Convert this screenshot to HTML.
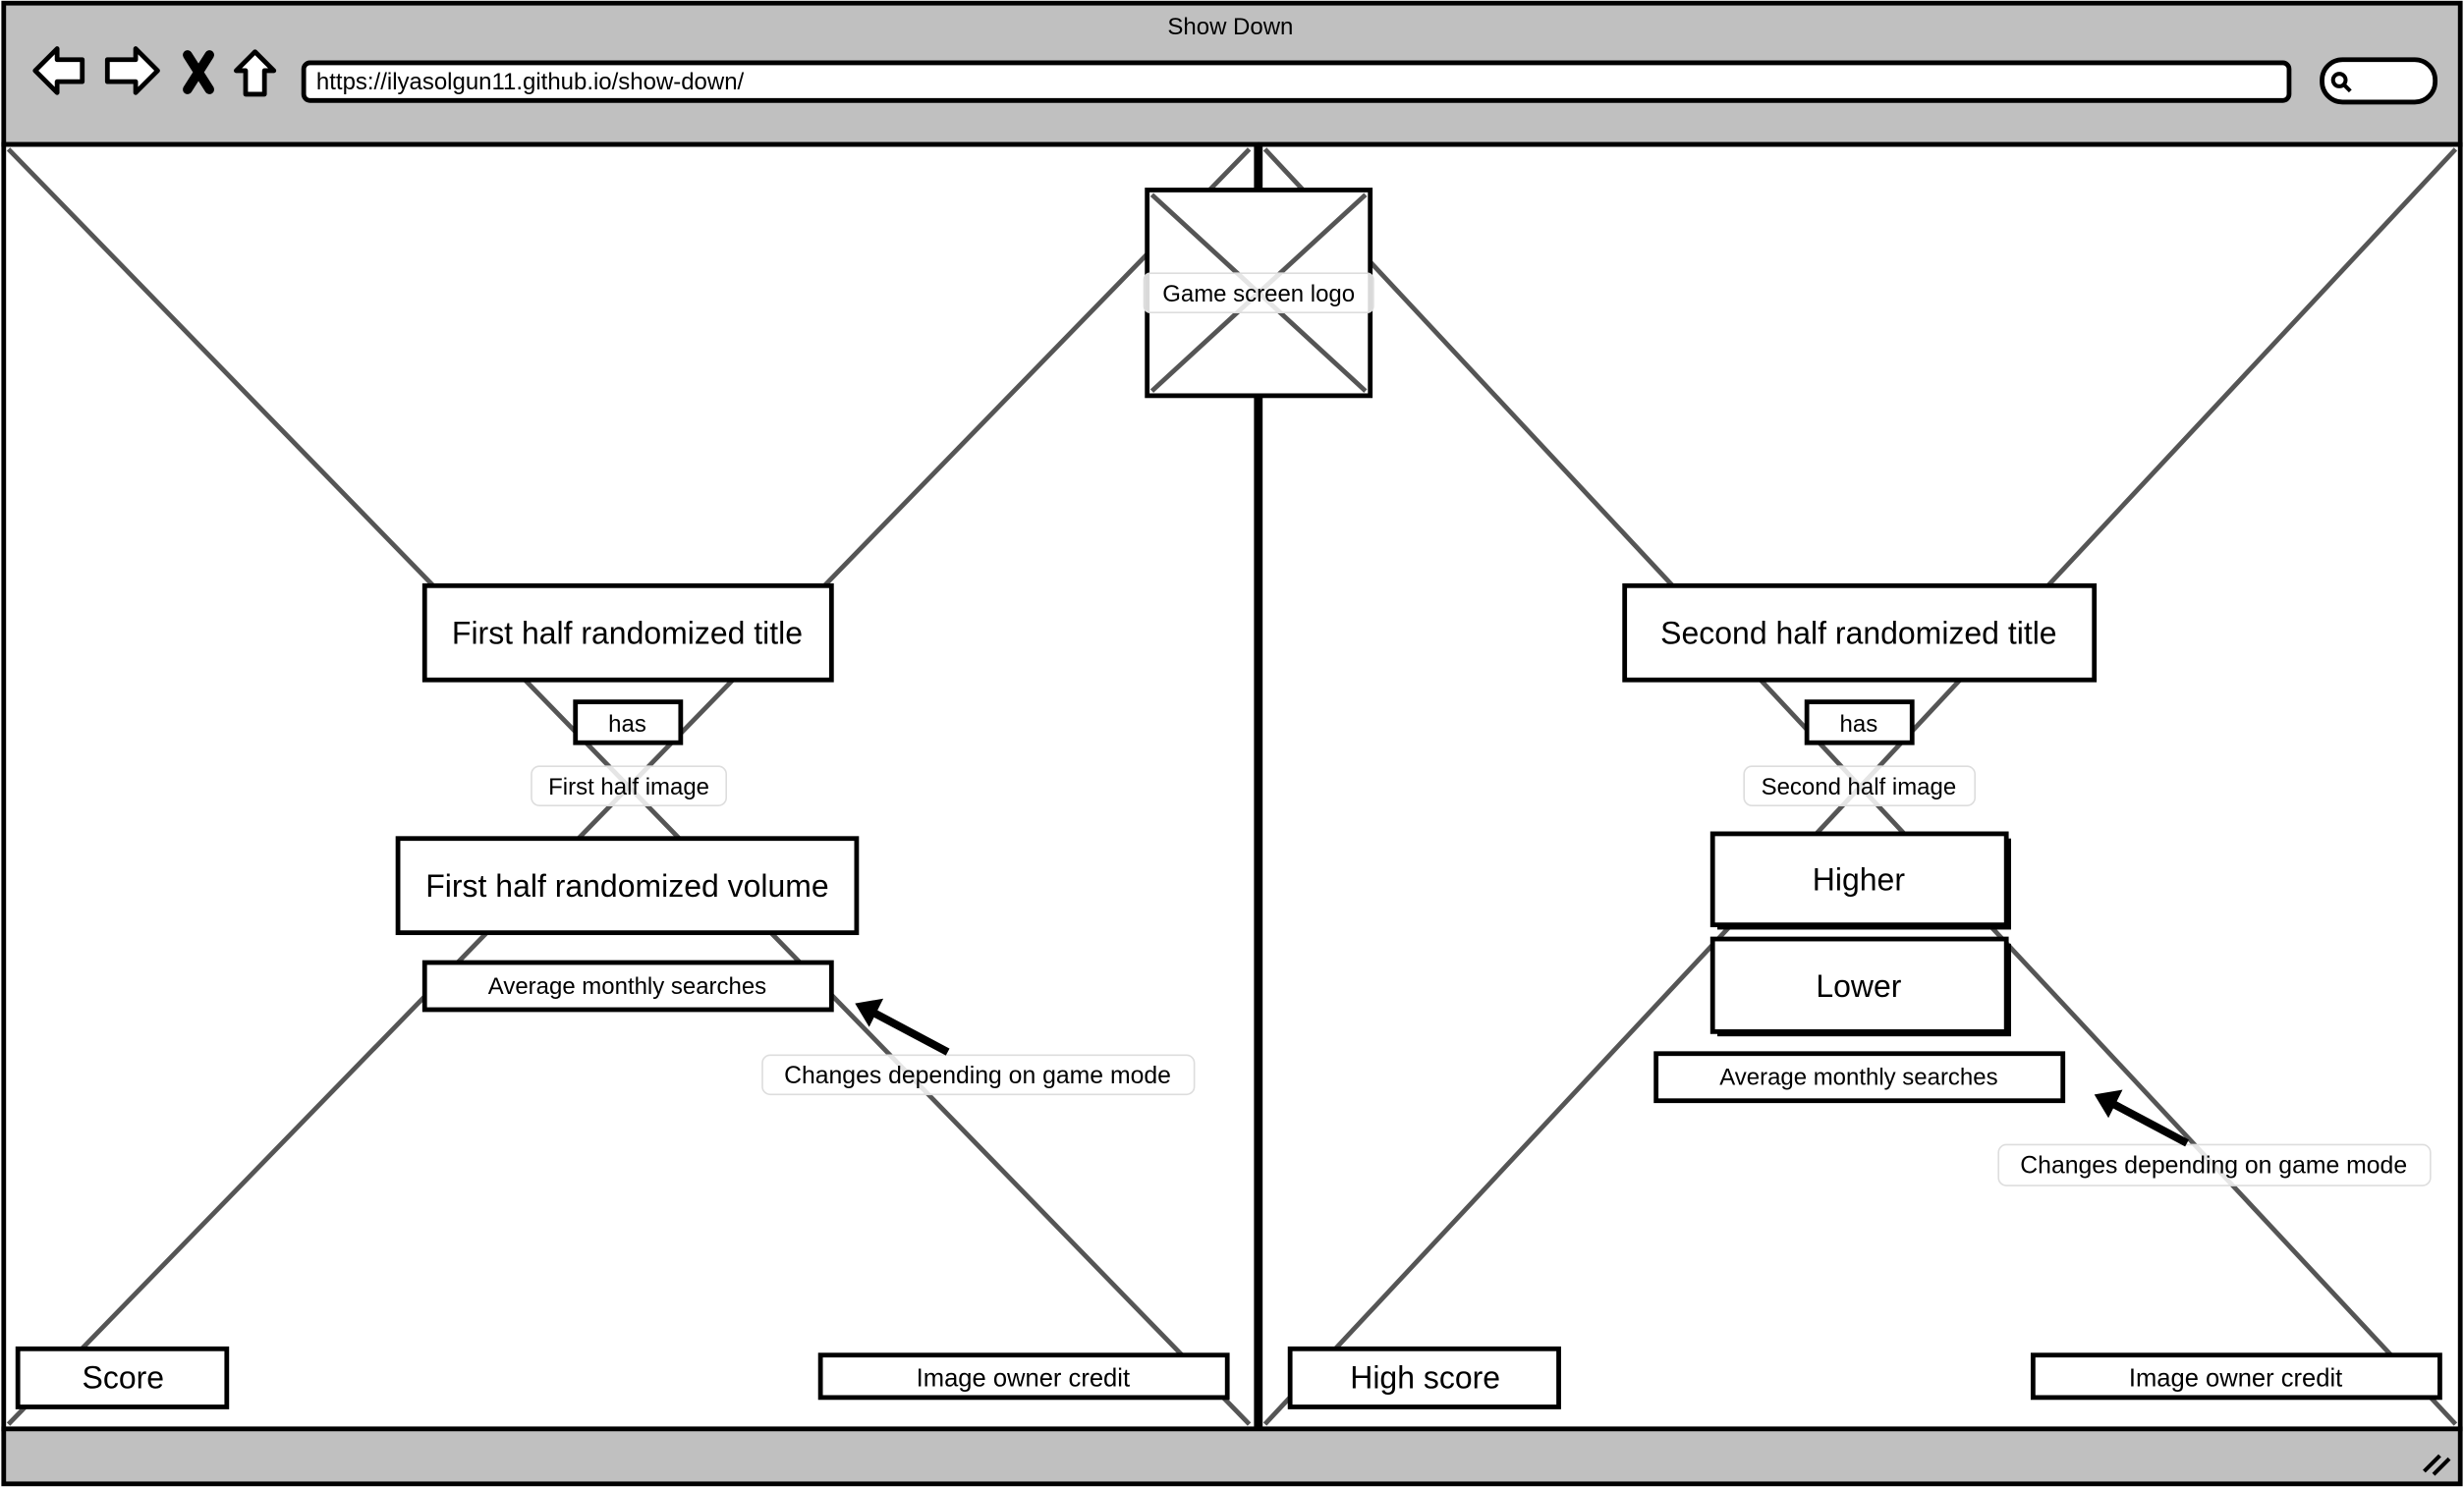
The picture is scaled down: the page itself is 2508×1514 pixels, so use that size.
<!DOCTYPE html>
<html><head><meta charset="utf-8"><style>
html,body{margin:0;padding:0;background:#fff;width:2508px;height:1514px;overflow:hidden}
svg{display:block}
text{font-family:"Liberation Sans",sans-serif;fill:#000}
</style></head><body>
<svg width="2508" height="1514" viewBox="0 0 1568 947" xmlns="http://www.w3.org/2000/svg">
<rect x="0" y="0" width="1568" height="947" fill="#fff"/>
<rect x="2" y="2" width="1564" height="90" fill="#c0c0c0" stroke="#000" stroke-width="3"/>
<text x="783" y="22" font-size="15" text-anchor="middle">Show Down</text>
<g stroke="#000" stroke-width="3" fill="#fff" stroke-linejoin="round">
<path d="M22,45 L36,31 L36,38 L52,38 L52,52 L36,52 L36,59 Z"/>
<path d="M100,45 L86,31 L86,38 L68,38 L68,52 L86,52 L86,59 Z"/>
<path d="M150,45 L162,33 L174,45 L168,45 L168,60 L156,60 L156,45 Z"/>
</g>
<path d="M119,35 L133,57 M133,35 L119,57" stroke="#000" stroke-width="6" stroke-linecap="round"/>
<rect x="193" y="40" width="1264" height="24" rx="4" fill="#fff" stroke="#000" stroke-width="3"/>
<text x="201" y="57" font-size="15">https://ilyasolgun11.github.io/show-down/</text>
<rect x="1478" y="38" width="72" height="27" rx="13" fill="#fff" stroke="#000" stroke-width="3"/>
<circle cx="1489" cy="51" r="4" fill="none" stroke="#000" stroke-width="2.5"/>
<line x1="1492" y1="54" x2="1496" y2="58" stroke="#000" stroke-width="2.5"/>
<rect x="2" y="92" width="798" height="818" fill="#fff" stroke="#000" stroke-width="3"/>
<rect x="802" y="92" width="764" height="818" fill="#fff" stroke="#000" stroke-width="3"/>
<g stroke="#555" stroke-width="3">
<line x1="5" y1="95" x2="795" y2="907"/>
<line x1="795" y1="95" x2="5" y2="907"/>
<line x1="805" y1="95" x2="1563" y2="907"/>
<line x1="1563" y1="95" x2="805" y2="907"/>
</g>
<rect x="2" y="910" width="1564" height="35" fill="#c0c0c0" stroke="#000" stroke-width="3"/>
<path d="M1543,937 L1553,927 M1549,939 L1559,929" stroke="#000" stroke-width="2.5"/>
<line x1="800" y1="92" x2="800" y2="910" stroke="#000" stroke-width="4"/>
<rect x="730" y="121" width="142" height="131" fill="#fff" stroke="#000" stroke-width="3"/>
<g stroke="#555" stroke-width="3"><line x1="733" y1="124" x2="869" y2="249"/><line x1="869" y1="124" x2="733" y2="249"/></g>
<rect x="728" y="174" width="146" height="25" rx="4" fill="#fff" fill-opacity="0.85" stroke="#ddd"/>
<text x="801" y="192" font-size="15" text-anchor="middle">Game screen logo</text>
<g fill="#fff" stroke="#000" stroke-width="3">
<rect x="270" y="373" width="259" height="60"/>
<rect x="366" y="447" width="67" height="26"/>
<rect x="253" y="534" width="292" height="60"/>
<rect x="270" y="613" width="259" height="30"/>
<rect x="11" y="859" width="133" height="37"/>
<rect x="522" y="863" width="259" height="27"/>
<rect x="1034" y="373" width="299" height="60"/>
<rect x="1150" y="447" width="67" height="26"/>
<rect x="1054" y="671" width="259" height="30"/>
<rect x="821" y="859" width="171" height="37"/>
<rect x="1294" y="863" width="259" height="27"/>
</g>
<g fill="#000"><rect x="1093" y="534" width="187" height="58"/><rect x="1093" y="601" width="187" height="59"/></g>
<g fill="#fff" stroke="#000" stroke-width="3">
<rect x="1090" y="531" width="187" height="58"/>
<rect x="1090" y="598" width="187" height="59"/>
</g>
<g fill="#fff" fill-opacity="0.85" stroke="#ddd">
<rect x="338" y="488" width="124" height="25" rx="5"/>
<rect x="485" y="672" width="275" height="25" rx="5"/>
<rect x="1110" y="488" width="147" height="25" rx="5"/>
<rect x="1272" y="729" width="275" height="26" rx="5"/>
</g>
<g stroke="#000" stroke-width="5"><line x1="603" y1="670" x2="556" y2="645"/><line x1="1392" y1="728" x2="1345" y2="703"/></g>
<path d="M544,639 L562,636 L553,654 Z" fill="#000"/>
<path d="M1333,697 L1351,694 L1342,712 Z" fill="#000"/>
<g text-anchor="middle">
<text x="399" y="410" font-size="20">First half randomized title</text>
<text x="399" y="466" font-size="15">has</text>
<text x="400" y="506" font-size="15">First half image</text>
<text x="399" y="571" font-size="20">First half randomized volume</text>
<text x="399" y="633" font-size="15">Average monthly searches</text>
<text x="622" y="690" font-size="15.5">Changes depending on game mode</text>
<text x="78" y="884" font-size="20">Score</text>
<text x="651" y="883" font-size="16">Image owner credit</text>
<text x="1183" y="410" font-size="20">Second half randomized title</text>
<text x="1183" y="466" font-size="15">has</text>
<text x="1183" y="506" font-size="15">Second half image</text>
<text x="1183" y="567" font-size="20">Higher</text>
<text x="1183" y="635" font-size="20">Lower</text>
<text x="1183" y="691" font-size="15">Average monthly searches</text>
<text x="1409" y="747" font-size="15.5">Changes depending on game mode</text>
<text x="907" y="884" font-size="20">High score</text>
<text x="1423" y="883" font-size="16">Image owner credit</text>
</g>
</svg>
</body></html>
